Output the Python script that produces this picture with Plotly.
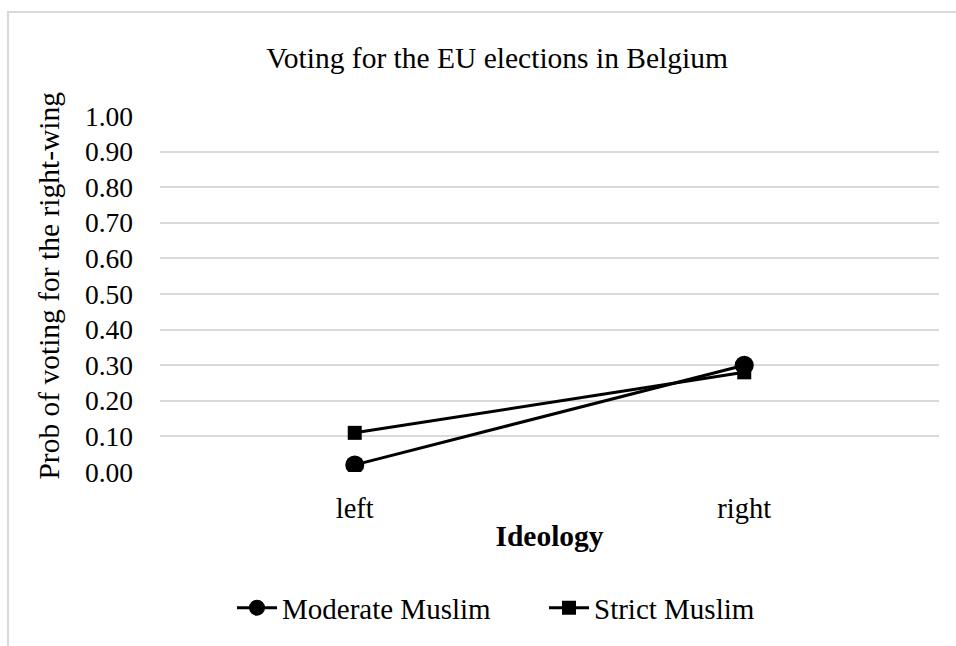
import plotly.graph_objects as go

categories = ["left", "right"]
moderate = [0.02, 0.30]
strict = [0.11, 0.28]
y_ticks = [0.0, 0.1, 0.2, 0.3, 0.4, 0.5, 0.6, 0.7, 0.8, 0.9, 1.0]
y_ticklabels = ["%.2f" % v for v in y_ticks]

FONT = "Liberation Serif, Times New Roman, serif"

fig = go.Figure()
fig.add_trace(go.Scatter(
    x=categories, y=moderate, name="Moderate Muslim", mode="lines+markers",
    line=dict(color="black", width=3),
    marker=dict(symbol="circle", size=19, color="black"),
))
fig.add_trace(go.Scatter(
    x=categories, y=strict, name="Strict Muslim", mode="lines+markers",
    line=dict(color="black", width=3),
    marker=dict(symbol="square", size=14, color="black"),
))

W, H = 956, 646
L, R, T, B = 160, 17, 116, 171
pw = W - L - R
ph = H - T - B

def px_x(px):
    return (px - L) / pw

def px_y(py):
    return (H - B - py) / ph

fig.update_layout(
    width=W, height=H,
    margin=dict(l=L, r=R, t=T, b=B, pad=0),
    paper_bgcolor="white", plot_bgcolor="white",
    font=dict(family=FONT, size=28, color="black"),
    title=dict(text="Voting for the EU elections in Belgium", x=0.52, xanchor="center",
               y=1 - 58 / H, yanchor="middle", font=dict(size=29.5)),
    xaxis=dict(type="category", range=[-0.5, 1.5], showgrid=False, zeroline=False,
               showline=False, ticks="", tickfont=dict(size=28.5), ticklabelstandoff=16,
               title=dict(text="<b>Ideology</b>", font=dict(size=29.5), standoff=2)),
    yaxis=dict(range=[0, 1.0], tickvals=y_ticks, ticktext=y_ticklabels,
               showgrid=True, gridcolor="#d9d9d9", gridwidth=2, zeroline=False,
               showline=False, ticks="", tickfont=dict(size=27.5), ticklabelstandoff=26),
    legend=dict(orientation="h", x=px_x(232), xanchor="left", y=px_y(612), yanchor="middle",
                font=dict(size=29), itemwidth=40, tracegroupgap=0,
                entrywidth=257, entrywidthmode="pixels"),
    showlegend=True,
    annotations=[dict(text="Prob of voting for the right-wing", textangle=-90,
                      xref="paper", yref="paper", x=px_x(49), y=px_y(287),
                      xanchor="center", yanchor="middle", showarrow=False,
                      font=dict(size=29.5))],
    shapes=[dict(type="rect", xref="paper", yref="paper",
                 x0=px_x(8), x1=px_x(962), y0=px_y(652), y1=px_y(11),
                 line=dict(color="#d9d9d9", width=2), fillcolor="rgba(0,0,0,0)", layer="below")],
)

fig.write_html("out.html")
